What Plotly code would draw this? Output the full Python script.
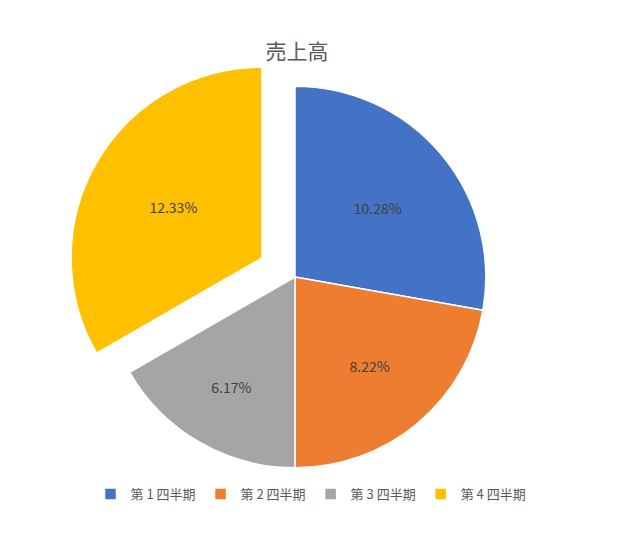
import plotly.graph_objects as go

labels = ["第 1 四半期", "第 2 四半期", "第 3 四半期", "第 4 四半期"]
values = [10.28, 8.22, 6.17, 12.33]
colors = ["#4472C4", "#ED7D31", "#A5A5A5", "#FFC000"]
pulls = [0, 0, 0, 0.2]
title = "売上高"

font = "Noto Sans CJK JP"

fig = go.Figure(go.Pie(
    labels=labels,
    values=values,
    sort=False,
    direction="clockwise",
    rotation=0,
    pull=pulls,
    marker=dict(colors=colors, line=dict(color="white", width=1.5)),
    texttemplate="%{value:.2f}%",
    textposition="inside",
    insidetextorientation="horizontal",
    textfont=dict(family=font, size=14, color="#404040"),
    hoverinfo="label+value",
))

fig.update_layout(
    width=619, height=545,
    paper_bgcolor="white", plot_bgcolor="white",
    margin=dict(l=58, r=103, t=40, b=47, autoexpand=False),
    font=dict(family=font, color="#595959"),
    title=dict(text=title, x=289/619, xanchor="center", xref="container",
               y=1-44/545, yanchor="middle", yref="container",
               font=dict(family=font, size=21, color="#595959")),
    showlegend=True,
    legend=dict(orientation="h", x=(303-58)/458, xanchor="center", xref="paper",
                y=(498-486)/458, yanchor="middle", yref="paper",
                font=dict(family=font, size=13, color="#595959"),
                bgcolor="rgba(0,0,0,0)", itemwidth=30),
)

fig.write_html("out.html")
